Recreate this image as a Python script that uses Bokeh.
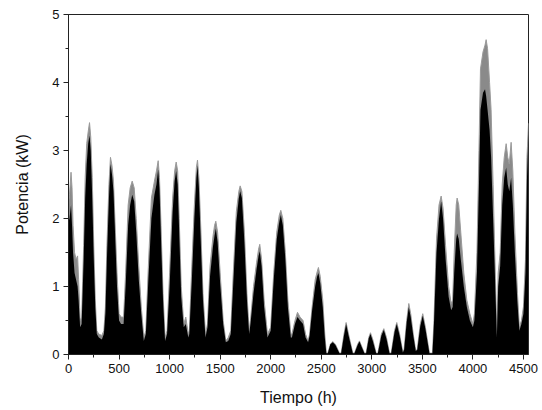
from bokeh.plotting import figure
from bokeh.models import ColumnDataSource, SingleIntervalTicker, Range1d
from bokeh.embed import file_html
from bokeh.resources import INLINE

# Envelope of the hourly power series (hours, kW)
hours = [0, 10, 25, 35, 45, 60, 75, 90, 100, 115, 130, 150, 165, 180, 195, 208, 220, 235, 250, 265,
         280, 300, 330, 350, 365, 380, 400, 415, 430, 445, 460, 480, 500, 520, 545, 565, 590, 610, 630, 650,
         670, 695, 720, 745, 765, 790, 820, 850, 870, 887, 900, 915, 935, 955, 975, 1000, 1030, 1050, 1065, 1080,
         1095, 1115, 1140, 1160, 1185, 1195, 1220, 1245, 1265, 1276, 1290, 1310, 1330, 1355, 1375, 1400, 1430, 1445, 1457, 1475,
         1500, 1530, 1556, 1580, 1605, 1630, 1660, 1685, 1698, 1715, 1740, 1765, 1787, 1800, 1830, 1860, 1880, 1892, 1910, 1935,
         1968, 2000, 2030, 2060, 2085, 2100, 2120, 2145, 2170, 2199, 2210, 2240, 2265, 2290, 2320, 2345, 2370, 2385, 2410, 2440,
         2460, 2472, 2490, 2515, 2535, 2550, 2565, 2590, 2614, 2640, 2680, 2697, 2725, 2746, 2770, 2812, 2829, 2860, 2878, 2900,
         2927, 2944, 2970, 2987, 3010, 3043, 3060, 3095, 3119, 3145, 3175, 3192, 3225, 3247, 3275, 3307, 3320, 3345, 3366, 3385,
         3410, 3435, 3450, 3480, 3504, 3530, 3570, 3600, 3615, 3640, 3665, 3686, 3705, 3730, 3760, 3785, 3800, 3815, 3835, 3844,
         3860, 3880, 3910, 3940, 3970, 4000, 4015, 4040, 4060, 4075, 4100, 4120, 4131, 4145, 4165, 4180, 4200, 4213, 4237, 4250,
         4270, 4290, 4310, 4329, 4345, 4360, 4378, 4395, 4415, 4441, 4460, 4480, 4500, 4520, 4535, 4550]

# grey series (outer)
gray_kw = [2.20, 2.35, 2.68, 2.45, 1.90, 1.50, 1.40, 1.45, 1.10, 0.50, 0.55, 1.60, 2.60, 3.10, 3.28, 3.41, 3.20, 2.60, 1.60, 0.80,
           0.35, 0.30, 0.28, 0.35, 0.70, 1.60, 2.50, 2.90, 2.78, 2.55, 1.95, 1.20, 0.60, 0.55, 0.55, 1.20, 2.20, 2.45, 2.55, 2.45,
           2.00, 1.30, 0.70, 0.25, 0.35, 1.30, 2.30, 2.55, 2.70, 2.85, 2.60, 1.90, 0.90, 0.25, 0.35, 1.20, 2.30, 2.70, 2.83, 2.70,
           2.00, 1.00, 0.45, 0.55, 0.30, 0.35, 1.30, 2.20, 2.75, 2.86, 2.60, 1.80, 0.90, 0.30, 0.45, 1.30, 1.75, 1.90, 1.96, 1.80,
           1.20, 0.50, 0.20, 0.25, 0.35, 1.20, 2.10, 2.40, 2.48, 2.40, 1.80, 0.90, 0.35, 0.50, 1.00, 1.35, 1.55, 1.62, 1.40, 0.80,
           0.30, 0.40, 1.20, 1.80, 2.05, 2.12, 2.00, 1.50, 0.80, 0.30, 0.30, 0.50, 0.62, 0.55, 0.50, 0.30, 0.20, 0.30, 0.70, 1.10,
           1.22, 1.28, 1.15, 0.80, 0.30, 0.03, 0.02, 0.15, 0.19, 0.15, 0.02, 0.02, 0.30, 0.47, 0.30, 0.02, 0.02, 0.15, 0.20, 0.12,
           0.02, 0.02, 0.25, 0.32, 0.22, 0.02, 0.02, 0.30, 0.38, 0.25, 0.02, 0.02, 0.35, 0.47, 0.30, 0.03, 0.08, 0.50, 0.75, 0.60,
           0.30, 0.05, 0.08, 0.45, 0.60, 0.40, 0.02, 0.02, 0.50, 1.70, 2.20, 2.33, 2.15, 1.60, 1.00, 0.75, 0.80, 1.50, 2.20, 2.30,
           2.20, 1.80, 1.20, 0.80, 0.60, 0.45, 0.60, 1.50, 3.00, 4.20, 4.45, 4.55, 4.63, 4.50, 4.00, 3.60, 2.50, 1.70, 0.30, 1.20,
           1.50, 2.50, 2.90, 3.10, 2.90, 2.80, 3.12, 2.70, 1.80, 0.90, 0.40, 0.50, 0.70, 1.40, 2.90, 3.40]

# black series (inner)
black_kw = [1.95, 2.00, 2.20, 1.90, 1.50, 1.20, 1.10, 1.00, 0.80, 0.40, 0.45, 1.40, 2.30, 2.80, 3.10, 3.22, 3.00, 2.30, 1.40, 0.70,
            0.30, 0.25, 0.22, 0.30, 0.60, 1.40, 2.30, 2.80, 2.65, 2.40, 1.80, 1.00, 0.50, 0.45, 0.45, 1.00, 1.90, 2.20, 2.35, 2.25,
            1.80, 1.10, 0.60, 0.20, 0.30, 1.10, 2.00, 2.35, 2.50, 2.72, 2.45, 1.70, 0.80, 0.20, 0.30, 1.00, 2.10, 2.55, 2.70, 2.50,
            1.80, 0.85, 0.40, 0.45, 0.25, 0.30, 1.10, 2.00, 2.60, 2.78, 2.45, 1.60, 0.80, 0.25, 0.40, 1.15, 1.60, 1.75, 1.85, 1.65,
            1.05, 0.45, 0.18, 0.20, 0.30, 1.05, 1.95, 2.30, 2.40, 2.30, 1.65, 0.80, 0.30, 0.45, 0.90, 1.25, 1.45, 1.52, 1.30, 0.70,
            0.25, 0.35, 1.10, 1.70, 1.95, 2.05, 1.90, 1.40, 0.70, 0.25, 0.25, 0.45, 0.55, 0.50, 0.45, 0.25, 0.18, 0.28, 0.65, 1.00,
            1.15, 1.20, 1.05, 0.70, 0.25, 0.02, 0.02, 0.15, 0.18, 0.14, 0.02, 0.02, 0.28, 0.45, 0.28, 0.02, 0.02, 0.14, 0.19, 0.11,
            0.02, 0.02, 0.24, 0.30, 0.20, 0.02, 0.02, 0.28, 0.36, 0.23, 0.02, 0.02, 0.33, 0.45, 0.28, 0.03, 0.07, 0.47, 0.70, 0.55,
            0.28, 0.05, 0.07, 0.42, 0.57, 0.38, 0.02, 0.02, 0.45, 1.50, 2.00, 2.25, 2.00, 1.40, 0.85, 0.65, 0.70, 1.20, 1.70, 1.78,
            1.70, 1.40, 1.00, 0.70, 0.50, 0.40, 0.50, 1.20, 2.50, 3.60, 3.85, 3.90, 3.80, 3.60, 3.30, 2.90, 2.00, 1.40, 0.25, 1.00,
            1.30, 2.20, 2.60, 2.75, 2.50, 2.40, 2.60, 2.20, 1.50, 0.75, 0.35, 0.45, 0.60, 1.20, 2.60, 3.30]

x_ticks_step = 500
y_ticks_step = 1

src = ColumnDataSource(dict(h=hours, g=gray_kw, b=black_kw))

p = figure(width=540, height=408, output_backend="svg", toolbar_location=None,
           x_range=Range1d(0, 4550), y_range=Range1d(0, 5),
           min_border_left=68, min_border_top=14, min_border_right=12, min_border_bottom=52)
p.background_fill_color = "white"
p.border_fill_color = "white"
p.outline_line_color = "#222222"
p.outline_line_width = 1
p.grid.visible = False

p.varea(x="h", y1=0, y2="g", source=src, fill_color="#8a8a8a")
p.line(x="h", y="g", source=src, line_color="#9a9a9a", line_width=1)
p.varea(x="h", y1=0, y2="b", source=src, fill_color="#000000")

p.xaxis.ticker = SingleIntervalTicker(interval=x_ticks_step, num_minor_ticks=2)
p.yaxis.ticker = SingleIntervalTicker(interval=y_ticks_step, num_minor_ticks=2)
p.xaxis.axis_label = "Tiempo (h)"
p.yaxis.axis_label = "Potencia (kW)"
for ax in (p.xaxis, p.yaxis):
    ax.axis_label_text_font = "Liberation Sans"
    ax.axis_label_text_font_style = "normal"
    ax.axis_label_text_font_size = "16px"
    ax.axis_label_text_color = "#111111"
    ax.major_label_text_font = "Liberation Sans"
    ax.major_label_text_font_size = "13px"
    ax.major_label_text_color = "#111111"
    ax.axis_line_color = "#222222"
    ax.major_tick_line_color = "#222222"
    ax.minor_tick_line_color = "#222222"
    ax.major_tick_out = 5
    ax.major_tick_in = 0
    ax.minor_tick_out = 3
    ax.minor_tick_in = 0
p.xaxis.major_label_standoff = 4
p.xaxis.axis_label_standoff = 13
p.yaxis.major_label_standoff = 4
p.yaxis.axis_label_standoff = 18

open("out.html", "w").write(file_html(p, INLINE))
